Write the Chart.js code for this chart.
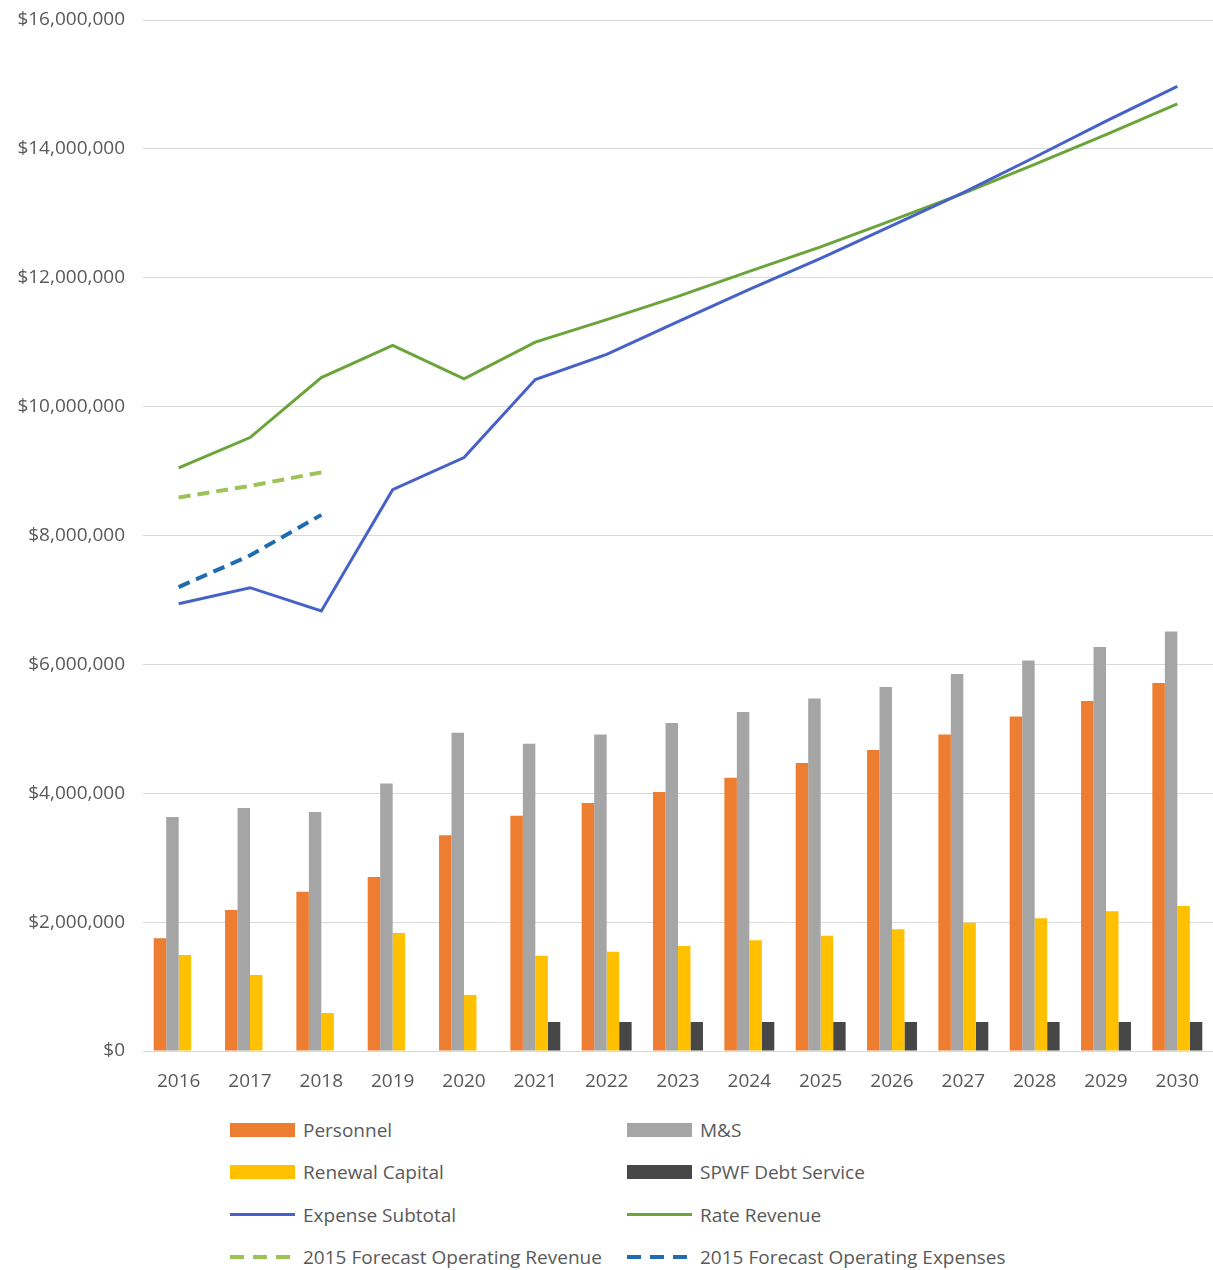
<!DOCTYPE html>
<html>
<head>
<meta charset="utf-8">
<script src="https://cdn.jsdelivr.net/npm/chart.js@4.4.1/dist/chart.umd.min.js"></script>
<style>
  body { margin: 0; background: #fff; font-family: "Open Sans", sans-serif; }
  #wrap { width: 1213px; height: 1100px; position: relative; }
  #legend { position: relative; width: 1213px; height: 170px; }
  .item { position: absolute; display: flex; align-items: center; height: 26px; color: #595959; font-size: 19px; }
  .sw { width: 65px; margin-right: 8px; }
</style>
</head>
<body>
<div id="wrap"><canvas id="budget_chart"></canvas></div>
<div id="legend"></div>
<script>
// yearly budget figures, dollars
const years = ['2016', '2017', '2018', '2019', '2020', '2021', '2022', '2023', '2024', '2025', '2026', '2027', '2028', '2029', '2030'];

const personnel = [1750000, 2190000, 2470000, 2700000, 3350000, 3650000, 3850000, 4020000, 4240000, 4470000, 4670000, 4910000, 5190000, 5430000, 5710000];
const mands = [3630000, 3770000, 3710000, 4150000, 4940000, 4770000, 4910000, 5090000, 5260000, 5470000, 5650000, 5850000, 6060000, 6270000, 6510000];
const renewalCapital = [1490000, 1180000, 590000, 1830000, 870000, 1480000, 1540000, 1630000, 1720000, 1790000, 1890000, 1990000, 2060000, 2170000, 2250000];
const debtService = [null, null, null, null, null, 450000, 450000, 450000, 450000, 450000, 450000, 450000, 450000, 450000, 450000];

const expenseSubtotal = [6940000, 7190000, 6830000, 8710000, 9210000, 10420000, 10810000, 11320000, 11820000, 12300000, 12810000, 13320000, 13870000, 14430000, 14970000];
const rateRevenue = [9050000, 9520000, 10450000, 10950000, 10430000, 11000000, 11350000, 11710000, 12100000, 12480000, 12890000, 13310000, 13760000, 14220000, 14700000];
const forecastRevenue = [8590000, 8770000, 8980000];
const forecastExpenses = [7200000, 7690000, 8320000];

const textColor = '#595959';
const fontFamily = '"Open Sans", sans-serif';

function bar(label, data, color) {
    return { type: 'bar', label: label, data: data, backgroundColor: color, order: 2,
             barPercentage: 1, categoryPercentage: 0.7 };
}
function line(label, data, color, dash) {
    return { type: 'line', label: label, data: data, borderColor: color, backgroundColor: color,
             borderWidth: dash ? 4 : 3, borderDash: dash || [], pointRadius: 0, tension: 0, order: 1,
             borderCapStyle: 'butt' };
}

let datasets = [
    bar('Personnel', personnel, '#ED7D31'),
    bar('M&S', mands, '#A5A5A5'),
    bar('Renewal Capital', renewalCapital, '#FFC000'),
    bar('SPWF Debt Service', debtService, '#474747'),
    line('Expense Subtotal', expenseSubtotal, '#4662C8'),
    line('Rate Revenue', rateRevenue, '#6AA43A'),
    line('2015 Forecast Operating Revenue', forecastRevenue, '#9CC356', [12, 7]),
    line('2015 Forecast Operating Expenses', forecastExpenses, '#1F6CB0', [12, 7]),
];

let options = {
    maintainAspectRatio: false,
    responsive: true,
    animation: false,
    layout: { padding: { top: 20, right: 0, left: 0, bottom: 0 } },
    plugins: {
        legend: { display: false },
        tooltip: { enabled: false }
    },
    scales: {
        x: {
            grid: { display: false },
            border: { color: '#d9d9d9', width: 1 },
            ticks: { color: textColor, font: { family: fontFamily, size: 19 }, padding: 11 },
            afterFit(scale) { scale.height = 49; }
        },
        y: {
            min: 0,
            max: 16000000,
            grid: { color: '#d9d9d9', drawTicks: false },
            border: { display: false },
            ticks: {
                stepSize: 2000000,
                color: textColor,
                font: { family: fontFamily, size: 19 },
                padding: 18,
                callback: v => '$' + v.toLocaleString('en-US')
            },
            afterFit(scale) {
                scale.width = 143;
                scale.paddingTop = 0;
                scale.paddingBottom = 0;
            }
        }
    }
};

let ctx = document.getElementById('budget_chart');
let budgetChart = new Chart(ctx, {
    data: { labels: years, datasets: datasets },
    options: options
});

// two column legend under the chart
let legend = document.getElementById('legend');
datasets.forEach((ds, i) => {
    let item = document.createElement('div');
    item.className = 'item';
    item.style.left = (i % 2 === 0 ? 230 : 627) + 'px';
    item.style.top = (17 + Math.floor(i / 2) * 42.3) + 'px';
    let sw = document.createElement('div');
    sw.className = 'sw';
    if (ds.type === 'bar') {
        sw.style.height = '14px';
        sw.style.background = ds.backgroundColor;
    } else if (ds.borderDash.length) {
        sw.style.height = '4px';
        sw.style.background = 'repeating-linear-gradient(90deg, ' + ds.borderColor + ' 0 14px, transparent 14px 23px)';
    } else {
        sw.style.height = '3px';
        sw.style.background = ds.borderColor;
    }
    let txt = document.createElement('span');
    txt.textContent = ds.label;
    item.appendChild(sw);
    item.appendChild(txt);
    legend.appendChild(item);
});
</script>
</body>
</html>
